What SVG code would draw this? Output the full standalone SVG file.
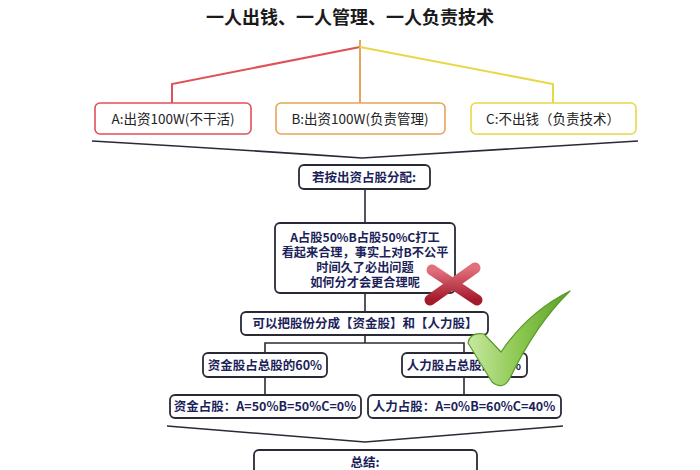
<svg xmlns="http://www.w3.org/2000/svg" width="700" height="470" viewBox="0 0 700 470">
<defs>
<style>
.t{font-family:"Noto Sans CJK SC","Liberation Sans",sans-serif;}
.title{font-size:18px;font-weight:bold;fill:#1a1a1a;text-anchor:middle;}
.top{font-size:13.5px;fill:#222;text-anchor:middle;}
.lb{fill:#fff;stroke:#2a2a36;stroke-width:1.8;}
.lt{font-size:12.5px;font-weight:bold;fill:#1c1f5a;text-anchor:middle;}
.ml{font-size:12.2px;}
.ln{fill:none;stroke:#2a2a36;stroke-width:1.6;}
</style>
<linearGradient id="gx" x1="0" y1="0" x2="0" y2="1">
<stop offset="0" stop-color="#e2707c"/>
<stop offset="1" stop-color="#a31a2c"/>
</linearGradient>
<linearGradient id="gc" x1="0" y1="0" x2="1" y2="0">
<stop offset="0" stop-color="#c8e8a0"/>
<stop offset="0.5" stop-color="#8cc850"/>
<stop offset="1" stop-color="#5c9e28"/>
</linearGradient>
</defs>
<rect width="700" height="470" fill="#fff"/>
<text class="t title" x="350" y="24">一人出钱、一人管理、一人负责技术</text>
<g id="connectors">
<polyline points="360,47 172,84 172,103" fill="none" stroke="#e05058" stroke-width="2"/>
<line x1="360" y1="40" x2="360" y2="103" stroke="#e8a458" stroke-width="2"/>
<polyline points="360,47 553,84 553,103" fill="none" stroke="#e8d848" stroke-width="2"/>
<path class="ln" d="M92,141 Q230,149 362,158 Q500,149 638,141"/>
<line class="ln" x1="365" y1="189" x2="365" y2="223"/>
<line class="ln" x1="365" y1="293" x2="365" y2="312"/>
<polyline class="ln" points="365,335 365,343"/>
<polyline class="ln" points="265,353 265,343 464,343 464,353"/>
<line class="ln" x1="265" y1="377" x2="265" y2="395"/>
<line class="ln" x1="464" y1="377" x2="464" y2="395"/>
<path class="ln" d="M167,426 Q270,434 365,442 Q460,434 563,426"/>
</g>
<g id="nodeA">
<rect x="95" y="103" width="156" height="31" rx="5" fill="#fff" stroke="#e05058" stroke-width="1.6"/>
<text class="t top" x="173" y="124">A:出资100W(不干活)</text>
</g>
<g id="nodeB">
<rect x="276" y="103" width="169" height="31" rx="5" fill="#fff" stroke="#e8a458" stroke-width="1.6"/>
<text class="t top" x="360" y="124">B:出资100W(负责管理)</text>
</g>
<g id="nodeC">
<rect x="471" y="103" width="165" height="31" rx="5" fill="#fff" stroke="#e8d848" stroke-width="1.6"/>
<text class="t top" x="553" y="124">C:不出钱（负责技术）</text>
</g>
<g id="node1">
<rect class="lb" x="299" y="165" width="131" height="24" rx="5"/>
<text class="t lt" x="364" y="182">若按出资占股分配:</text>
</g>
<g id="node2">
<rect class="lb" x="275" y="223" width="180" height="70" rx="5"/>
<text class="t lt ml" x="365" y="241.5">A占股50%B占股50%C打工<tspan x="365" dy="15">看起来合理，事实上对B不公平</tspan><tspan x="365" dy="15">时间久了必出问题</tspan><tspan x="365" dy="15">如何分才会更合理呢</tspan></text>
</g>
<g id="node3">
<rect class="lb" x="241" y="312" width="247" height="23" rx="5"/>
<text class="t lt" x="365" y="328">可以把股份分成【资金股】和【人力股】</text>
</g>
<g id="node4">
<rect class="lb" x="203" y="353" width="124" height="24" rx="5"/>
<text class="t lt" x="265" y="370">资金股占总股的60%</text>
</g>
<g id="node5">
<rect class="lb" x="402" y="353" width="125" height="24" rx="5"/>
<text class="t lt" x="464" y="370">人力股占总股的40%</text>
</g>
<g id="node6">
<rect class="lb" x="170" y="395" width="191" height="23" rx="5"/>
<text class="t lt" x="265" y="411">资金占股：A=50%B=50%C=0%</text>
</g>
<g id="node7">
<rect class="lb" x="368" y="395" width="193" height="23" rx="5"/>
<text class="t lt" x="464" y="411">人力占股：A=0%B=60%C=40%</text>
</g>
<g id="node8">
<rect class="lb" x="254" y="450" width="223" height="30" rx="5"/>
<text class="t lt" x="365" y="467">总结:</text>
</g>
<g id="cross">
<line x1="432" y1="270" x2="477" y2="300" stroke="url(#gx)" stroke-width="11" stroke-linecap="round"/>
<line x1="475" y1="268" x2="430" y2="300" stroke="url(#gx)" stroke-width="11" stroke-linecap="round"/>
</g>
<g id="check">
<path d="M468,343 Q470,332 484,334 L501,352 Q528,312 570,291 Q536,324 510,378 Q503,391 492,382 Z" fill="url(#gc)" stroke="#5a9a2a" stroke-width="1.2" stroke-linejoin="round"/>
</g>
</svg>
